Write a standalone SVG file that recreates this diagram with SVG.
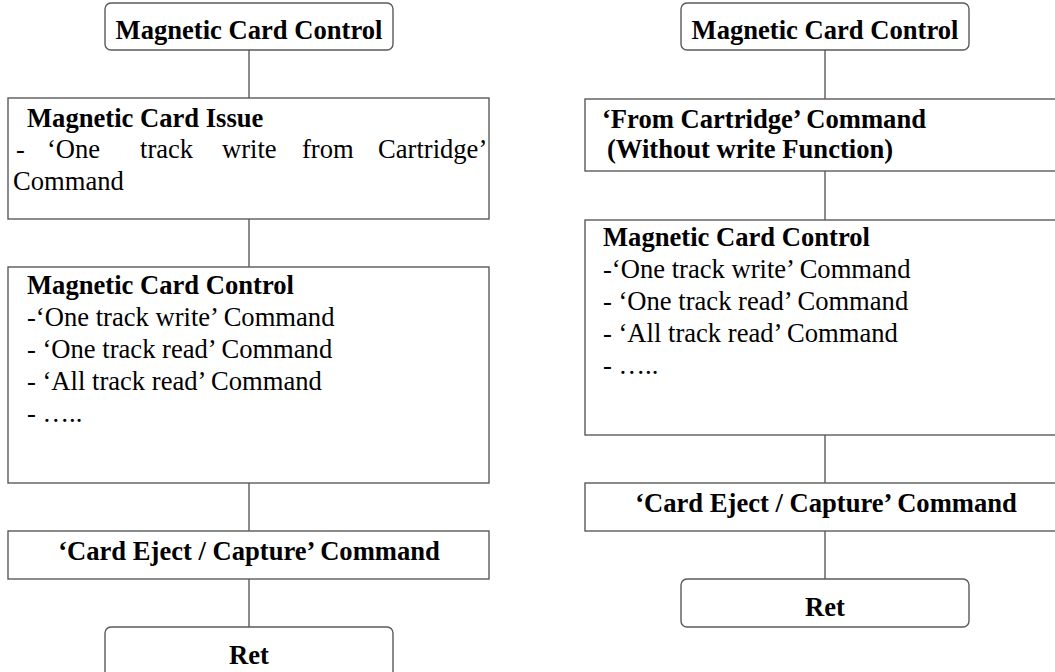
<svg xmlns="http://www.w3.org/2000/svg" width="1055" height="672" viewBox="0 0 1055 672">
<style>
.box{fill:#fff;stroke:#5a5a5a;stroke-width:1.4}
.ln{stroke:#5a5a5a;stroke-width:1.4;fill:none}
text{font-family:"Liberation Serif","Times New Roman",serif;font-size:26.6px;fill:#000}
.b{font-weight:bold}
.c{text-anchor:middle}
</style>
<rect width="1055" height="672" fill="#fff"/>
<g id="connectors">
<line class="ln" x1="249" y1="50" x2="249" y2="98"/>
<line class="ln" x1="249" y1="219" x2="249" y2="267"/>
<line class="ln" x1="249" y1="483" x2="249" y2="531"/>
<line class="ln" x1="249" y1="579" x2="249" y2="627"/>
<line class="ln" x1="825" y1="50" x2="825" y2="99"/>
<line class="ln" x1="825" y1="171" x2="825" y2="220"/>
<line class="ln" x1="825" y1="435" x2="825" y2="483"/>
<line class="ln" x1="825" y1="531" x2="825" y2="579"/>
</g>
<g id="L1">
<rect class="box" x="105" y="3" width="288" height="47" rx="6"/>
<text class="b c" x="249" y="39">Magnetic Card Control</text>
</g>
<g id="L2">
<rect class="box" x="8" y="98" width="481" height="121"/>
<text class="b" x="27" y="127">Magnetic Card Issue</text>
<text y="158"><tspan x="16">-</tspan><tspan x="47">‘One</tspan><tspan x="140">track</tspan><tspan x="222">write</tspan><tspan x="302">from</tspan><tspan x="378">Cartridge’</tspan></text>
<text x="13" y="190">Command</text>
</g>
<g id="L3">
<rect class="box" x="8" y="267" width="481" height="216"/>
<text class="b" x="27" y="294">Magnetic Card Control</text>
<text x="27" y="326">-‘One track write’ Command</text>
<text x="27" y="358">- ‘One track read’ Command</text>
<text x="27" y="390">- ‘All track read’ Command</text>
<text x="27" y="422">- …..</text>
</g>
<g id="L4">
<rect class="box" x="8" y="531" width="481" height="48"/>
<text class="b c" x="249" y="560">‘Card Eject / Capture’ Command</text>
</g>
<g id="L5">
<rect class="box" x="105" y="627" width="288" height="60" rx="6"/>
<text class="b c" x="249" y="664">Ret</text>
</g>
<g id="R1">
<rect class="box" x="681" y="3" width="288" height="47" rx="6"/>
<text class="b c" x="825" y="39">Magnetic Card Control</text>
</g>
<g id="R2">
<rect class="box" x="585" y="99" width="480" height="72"/>
<text class="b" x="602" y="128">‘From Cartridge’ Command</text>
<text class="b" x="607" y="158">(Without write Function)</text>
</g>
<g id="R3">
<rect class="box" x="585" y="220" width="480" height="215"/>
<text class="b" x="603" y="246">Magnetic Card Control</text>
<text x="603" y="278">-‘One track write’ Command</text>
<text x="603" y="310">- ‘One track read’ Command</text>
<text x="603" y="342">- ‘All track read’ Command</text>
<text x="603" y="374">- …..</text>
</g>
<g id="R4">
<rect class="box" x="585" y="483" width="480" height="48"/>
<text class="b c" x="826" y="512">‘Card Eject / Capture’ Command</text>
</g>
<g id="R5">
<rect class="box" x="681" y="579" width="288" height="48" rx="6"/>
<text class="b c" x="825" y="616">Ret</text>
</g>
</svg>
